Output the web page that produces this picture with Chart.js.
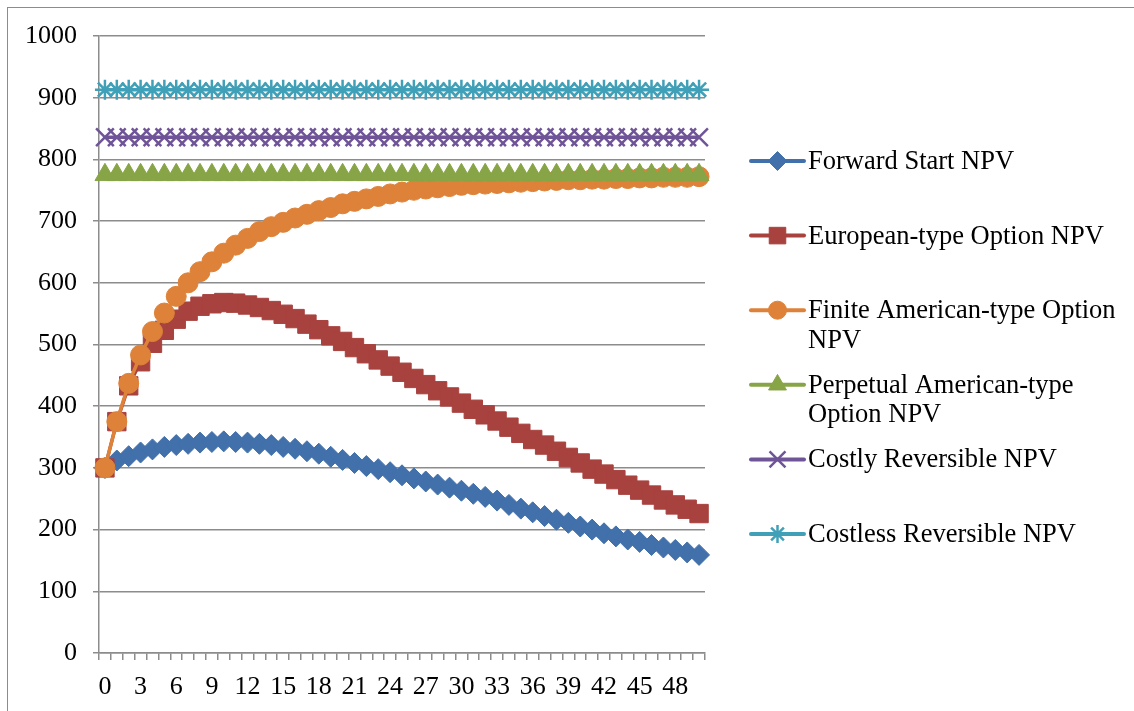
<!DOCTYPE html>
<html>
<head>
<meta charset="utf-8">
<script src="https://cdn.jsdelivr.net/npm/chart.js@4.4.0/dist/chart.umd.min.js"></script>
<style>
    html, body { margin: 0; padding: 0; background: #fff; }
    #wrap { position: relative; width: 1134px; height: 711px; overflow: hidden; }
    #frame { position: absolute; left: 7px; top: 7px; width: 1150px; height: 730px; border: 1px solid #8c8c8c; }
    #npv-chart { position: absolute; left: 0; top: 0; }
</style>
</head>
<body>
<div id="wrap">
    <div id="frame"></div>
    <canvas id="npv-chart" width="1134" height="711"></canvas>
</div>
<script>
 // x categories 0..50
const periods = ['0','1','2','3','4','5','6','7','8','9','10','11','12','13','14','15','16','17','18','19','20',
    '21','22','23','24','25','26','27','28','29','30','31','32','33','34','35','36','37','38','39','40',
    '41','42','43','44','45','46','47','48','49','50'];

 // only every third period gets a label
const tickLabels = ['0','3','6','9','12','15','18','21','24','27','30','33','36','39','42','45','48'];

const forwardStart = [300, 312, 319, 325, 330, 334, 337, 339, 341, 342, 343, 342, 341, 339, 337, 334, 331,
    327, 323, 318, 313, 308, 303, 298, 293, 288, 283, 278, 273, 268, 263, 258, 253, 247, 240, 234, 228,
    222, 216, 211, 205, 200, 194, 189, 184, 180, 175, 171, 167, 163, 159];

const europeanOption = [300, 375, 433, 472, 502, 523, 541, 554, 562, 566, 568, 567, 564, 560, 555, 549, 542,
    533, 524, 514, 505, 495, 485, 475, 465, 455, 445, 435, 425, 415, 405, 395, 386, 376, 366, 356, 346,
    337, 327, 317, 308, 298, 290, 281, 272, 264, 256, 248, 240, 233, 226];

const finiteAmerican = [300, 375, 437, 483, 521, 551, 578, 600, 618, 634, 648, 661, 672, 683, 691, 698, 705,
    711, 717, 722, 728, 732, 736, 740, 744, 747, 750, 752, 754, 756, 758, 759, 760, 761, 762, 763, 764,
    765, 766, 767, 767, 768, 768, 769, 769, 770, 770, 771, 771, 771, 772];

const perpetualAmerican = Array(periods.length).fill(775);
const costlyReversible = Array(periods.length).fill(836);
const costlessReversible = Array(periods.length).fill(913);

 // legend text, already wrapped the way the original shows it
const seriesNames = [
    ['Forward Start NPV'],
    ['European-type Option NPV'],
    ['Finite American-type Option', 'NPV'],
    ['Perpetual American-type', 'Option NPV'],
    ['Costly Reversible NPV'],
    ['Costless Reversible NPV']
];

const seriesColors = ['#4170aa', '#a8423f', '#dd8238', '#87a546', '#6f5497', '#40a0b8'];
const seriesMarkers = ['rectRot', 'rect', 'circle', 'triangle', 'crossRot', 'star'];
const markerSizes = [10.5, 13, 10, 11.5, 12.5, 10];
const seriesValues = [forwardStart, europeanOption, finiteAmerican, perpetualAmerican, costlyReversible, costlessReversible];

const FONT = '"Liberation Serif", "Times New Roman", serif';

 // legend drawn on the right, next to the plot
const sideLegend = {
    id: 'sideLegend',
    afterDraw(chart) {
        const ctx = chart.ctx;
        ctx.save();
        chart.data.datasets.forEach((ds, i) => {
            const y = 161 + i * 74.6;
            ctx.strokeStyle = ds.borderColor;
            ctx.lineWidth = 4;
            ctx.lineCap = 'round';
            ctx.beginPath();
            ctx.moveTo(751, y);
            ctx.lineTo(804, y);
            ctx.stroke();
            ctx.fillStyle = ds.pointBackgroundColor;
            ctx.strokeStyle = ds.pointBorderColor;
            ctx.lineWidth = ds.pointBorderWidth;
            ctx.lineCap = 'butt';
            Chart.helpers.drawPoint(ctx, {
                pointStyle: ds.pointStyle,
                radius: ds.pointRadius * 0.9,
                borderWidth: ds.pointBorderWidth,
                rotation: 0
            }, 777.5, y);
            ctx.fillStyle = '#000';
            ctx.font = '26.5px ' + FONT;
            ctx.textBaseline = 'middle';
            ctx.textAlign = 'left';
            seriesNames[i].forEach((line, k) => {
                ctx.fillText(line, 808, y + 1 + k * 29.5);
            });
        });
        ctx.restore();
    }
};

const datasets = seriesValues.map((values, i) => {
    const isCross = seriesMarkers[i] === 'crossRot' || seriesMarkers[i] === 'star';
    return {
        label: seriesNames[i].join(' '),
        data: values,
        borderColor: seriesColors[i],
        backgroundColor: seriesColors[i],
        borderWidth: 3.5,
        tension: 0,
        pointStyle: seriesMarkers[i],
        pointRadius: markerSizes[i],
        pointBackgroundColor: seriesColors[i],
        pointBorderColor: seriesColors[i],
        pointBorderWidth: isCross ? 2.5 : 1,
        order: seriesValues.length - i
    };
});

const ctx = document.getElementById('npv-chart').getContext('2d');
new Chart(ctx, {
    type: 'line',
    data: {
        labels: periods,
        datasets: datasets
    },
    options: {
        responsive: false,
        animation: false,
        devicePixelRatio: 1,
        layout: {
            padding: { left: 0, top: 36, right: 429, bottom: 0 }
        },
        plugins: {
            legend: { display: false },
            tooltip: { enabled: false },
            title: { display: false }
        },
        scales: {
            x: {
                type: 'category',
                offset: true,
                afterFit(scale) { scale.height = 58; },
                grid: {
                    offset: true,
                    drawOnChartArea: false,
                    drawTicks: true,
                    tickLength: 7,
                    color: '#8c8c8c',
                    lineWidth: 1.5
                },
                border: { display: true, color: '#8c8c8c', width: 1.5 },
                ticks: {
                    autoSkip: false,
                    maxRotation: 0,
                    padding: 12,
                    color: '#000',
                    font: { family: FONT, size: 26 },
                    callback: function(value) {
                        const lbl = this.getLabelForValue(value);
                        return tickLabels.includes(lbl) ? lbl : '';
                    }
                }
            },
            y: {
                min: 0,
                max: 1000,
                afterFit(scale) { scale.width = 99; },
                grid: {
                    color: '#8c8c8c',
                    lineWidth: 1.5,
                    tickLength: 6
                },
                border: { display: true, color: '#8c8c8c', width: 1.5 },
                ticks: {
                    stepSize: 100,
                    padding: 16,
                    color: '#000',
                    font: { family: FONT, size: 26 },
                    callback: value => String(value)
                }
            }
        }
    },
    plugins: [sideLegend]
});
</script>
</body>
</html>
